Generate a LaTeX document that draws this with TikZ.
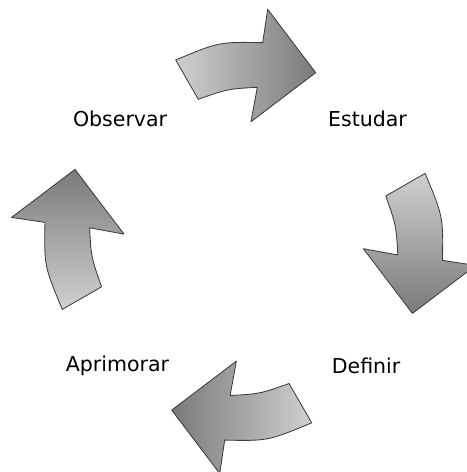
\documentclass[tikz,border=0pt]{standalone}
\usepackage{fontspec}
\setmainfont{DejaVu Sans}
\usepackage{xcolor}
\usepackage{tikz}
\usetikzlibrary{positioning}
\definecolor{arrlight}{RGB}{208,208,208}
\definecolor{arrdark}{RGB}{122,122,122}
\definecolor{arredge}{RGB}{60,60,60}
\tikzset{
  cyclearrow/.style={draw=arredge, line width=0.6pt, line join=round,
    top color=arrlight, bottom color=arrdark},
  steplabel/.style={font=\fontsize{14.6}{17}\selectfont, text=black}
}

\begin{document}
\begin{tikzpicture}
  \useasboundingbox (-6.0925,-5.765) rectangle (5.5825,6.035);
  % four curved arrows, one turned a quarter each time
  \foreach \a in {0,-90,-180,-270}
    \draw[cyclearrow, shading angle=90+\a, rotate=\a] (-1.70,4.535)
      .. controls (-0.613,4.989) .. (0.475,4.968)
      -- (0.6,5.8025) -- (1.8,4.2175) -- (0.1825,2.9925) -- (0.34,3.8525)
      .. controls (-0.397,3.8125) .. (-1.135,3.5525) -- cycle;
  \node[steplabel] (observar) at (-3.09,3.06) {Observar};
  \node[steplabel] (estudar) at (3.095,3.06) {Estudar};
  \node[steplabel] (definir) at (3.06,-3.1) {Definir};
  \node[steplabel] (aprimorar) at (-3.155,-3.1) {Aprimorar};
\end{tikzpicture}
\end{document}
